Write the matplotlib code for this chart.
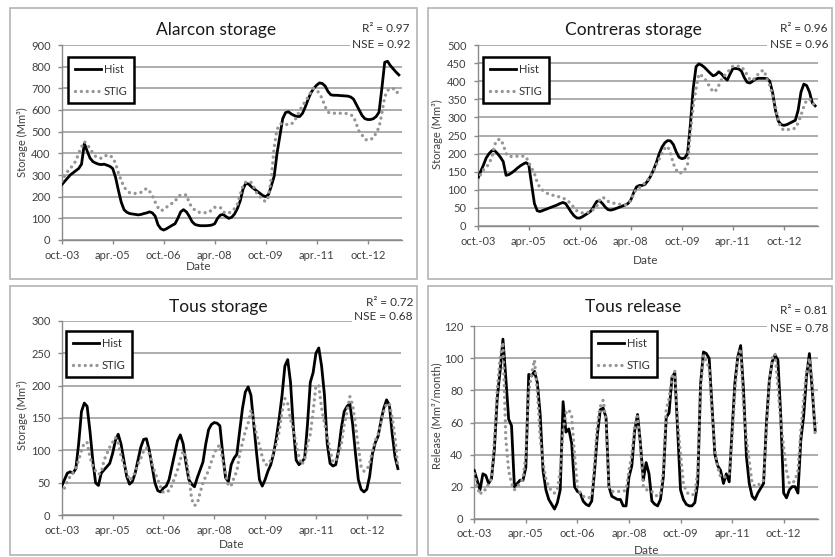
import matplotlib.pyplot as plt
import matplotlib.patches as patches
import numpy as np

plt.rcParams['font.family'] = ['Lato', 'DejaVu Sans']

W, H = 835, 557

# months counted from oct. 2003
tick_pos = [0, 18, 36, 54, 72, 90, 108]
tick_labels = ['oct.-03', 'apr.-05', 'oct.-06', 'apr.-08', 'oct.-09', 'apr.-11', 'oct.-12']

alarcon_hist = [255, 270, 285, 300, 310, 320, 330, 350, 445, 410,
                378, 362, 355, 350, 348, 350, 345, 340, 330, 290,
                230, 175, 140, 128, 122, 120, 118, 116, 118, 122,
                125, 130, 125, 110, 70, 52, 46, 52, 60, 68,
                75, 100, 130, 140, 130, 110, 85, 72, 68, 66,
                66, 66, 67, 69, 75, 100, 115, 118, 108, 100,
                105, 120, 145, 180, 235, 262, 258, 245, 235, 225,
                215, 205, 200, 210, 250, 295, 400, 480, 560, 588,
                592, 582, 575, 570, 570, 585, 615, 650, 680, 700,
                715, 725, 722, 710, 685, 670, 668, 668, 667, 666,
                665, 664, 660, 650, 625, 600, 575, 560, 556, 556,
                560, 570, 590, 700, 820, 825, 805, 790, 775, 762]
alarcon_stig = [270, 295, 315, 330, 346, 365, 400, 430, 454, 440,
                423, 400, 385, 380, 377, 385, 392, 390, 380, 354,
                310, 275, 245, 228, 218, 215, 215, 217, 220, 230,
                238, 225, 205, 175, 150, 135, 140, 152, 160, 170,
                178, 200, 208, 208, 208, 172, 150, 138, 130, 126,
                126, 126, 128, 140, 151, 151, 150, 130, 123, 125,
                131, 145, 165, 210, 250, 268, 270, 265, 240, 212,
                200, 185, 177, 200, 290, 430, 510, 535, 538, 535,
                531, 535, 546, 570, 598, 620, 640, 660, 685, 700,
                690, 677, 650, 615, 590, 585, 585, 585, 585, 585,
                585, 582, 578, 570, 535, 500, 485, 465, 460, 465,
                470, 495, 520, 585, 660, 690, 700, 698, 695, 662]

contreras_hist = [130, 150, 168, 188, 200, 208, 208, 200, 190, 178,
                  140, 142, 147, 153, 160, 166, 171, 175, 170, 115,
                  62, 42, 40, 43, 46, 49, 52, 55, 58, 62,
                  65, 62, 50, 38, 28, 22, 22, 26, 31, 36,
                  42, 55, 68, 70, 62, 52, 45, 44, 46, 49,
                  52, 55, 58, 62, 72, 92, 108, 112, 112, 115,
                  125, 138, 155, 175, 200, 218, 230, 236, 235, 225,
                  205, 190, 186, 188, 200, 280, 380, 440, 448, 444,
                  438, 430, 422, 415, 418, 426, 420, 410, 403, 420,
                  435, 435, 434, 428, 410, 397, 395, 400, 406, 408,
                  408, 408, 407, 400, 368, 320, 290, 280, 278, 280,
                  284, 288, 292, 320, 370, 392, 388, 370, 340, 332]
contreras_stig = [127, 142, 155, 162, 172, 190, 225, 238, 240, 225,
                  200, 192, 192, 192, 193, 193, 193, 192, 175, 160,
                  145, 120, 105, 98, 93, 88, 86, 84, 82, 80,
                  77, 74, 68, 60, 50, 42, 38, 36, 36, 38,
                  40, 48, 55, 72, 80, 75, 68, 66, 63, 61,
                  60, 59, 58, 62, 70, 90, 102, 106, 110, 120,
                  128, 140, 152, 170, 185, 200, 215, 220, 200, 172,
                  155, 145, 148, 155, 170, 260, 330, 380, 420, 415,
                  408, 395, 383, 370, 375, 388, 405, 415, 425, 432,
                  442, 442, 441, 440, 430, 418, 405, 402, 412, 420,
                  428, 430, 405, 388, 362, 330, 290, 270, 265, 266,
                  267, 268, 270, 285, 306, 330, 348, 350, 345, 325]

tous_hist = [45, 55, 65, 67, 65, 72, 110, 160, 173, 168,
             130, 85, 50, 46, 65, 70, 75, 80, 95, 115,
             125, 110, 85, 60, 48, 52, 65, 85, 105, 117,
             118, 100, 75, 50, 38, 36, 42, 45, 55, 75,
             95, 115, 124, 110, 80, 55, 48, 44, 58, 70,
             82, 110, 132, 140, 143, 142, 138, 95, 58, 52,
             78, 88, 94, 130, 165, 190, 198, 185, 140, 95,
             55, 45, 55, 68, 78, 95, 120, 150, 185, 230,
             240, 205, 135, 85, 78, 82, 88, 140, 205, 220,
             250, 258, 230, 186, 110, 80, 76, 78, 100, 135,
             160, 168, 172, 140, 95, 55, 40, 36, 40, 60,
             95, 112, 122, 145, 165, 178, 170, 125, 90, 72]
tous_stig = [34, 42, 52, 60, 66, 72, 85, 100, 112, 112,
             90, 76, 68, 63, 66, 85, 95, 105, 112, 120,
             112, 92, 78, 66, 54, 58, 66, 78, 88, 99,
             104, 95, 80, 66, 55, 44, 35, 36, 38, 46,
             58, 70, 86, 99, 90, 60, 25, 15, 18, 35,
             50, 60, 69, 83, 95, 105, 108, 85, 66, 45,
             46, 58, 68, 94, 112, 130, 142, 162, 145, 124,
             108, 90, 78, 78, 85, 96, 110, 130, 160, 180,
             172, 148, 130, 110, 90, 78, 86, 110, 125, 160,
             200, 200, 165, 142, 122, 100, 82, 84, 95, 110,
             140, 160, 183, 170, 140, 105, 75, 68, 70, 80,
             100, 115, 125, 142, 160, 172, 172, 150, 120, 73]

release_hist = [30, 24, 18, 28, 27, 22, 25, 43, 75, 92,
                112, 88, 62, 58, 20, 22, 24, 24, 32, 90,
                89, 92, 85, 65, 30, 18, 12, 9, 6, 10,
                18, 73, 54, 56, 47, 20, 17, 16, 11, 9,
                8, 11, 30, 53, 68, 69, 63, 20, 14, 13,
                12, 12, 8, 8, 26, 33, 55, 65, 47, 24,
                35, 28, 11, 9, 8, 12, 26, 63, 66, 88,
                91, 55, 18, 12, 9, 8, 8, 10, 22, 84,
                104, 103, 100, 70, 40, 33, 30, 22, 28, 23,
                55, 85, 101, 108, 80, 39, 22, 14, 12, 16,
                19, 22, 60, 86, 98, 102, 99, 64, 16, 13,
                18, 20, 20, 16, 49, 64, 89, 103, 80, 55]
release_stig = [28, 20, 15, 18, 18, 22, 25, 48, 80, 100,
                110, 50, 30, 22, 18, 20, 22, 25, 40, 80,
                90, 99, 80, 50, 35, 25, 20, 17, 16, 18,
                30, 55, 66, 68, 64, 40, 20, 16, 14, 13,
                13, 14, 35, 60, 70, 74, 60, 20, 17, 17,
                17, 17, 17, 18, 30, 40, 58, 64, 45, 20,
                18, 18, 17, 15, 14, 16, 30, 68, 75, 88,
                92, 60, 40, 22, 17, 15, 15, 15, 30, 80,
                102, 98, 94, 66, 43, 32, 26, 26, 26, 28,
                50, 80, 100, 106, 70, 50, 36, 22, 20, 21,
                22, 24, 55, 84, 100, 103, 82, 60, 45, 30,
                22, 22, 24, 30, 55, 75, 92, 100, 86, 52]

panels = [
    dict(title='Alarcon storage', hist=alarcon_hist, stig=alarcon_stig,
         box=(61.7, 45, 401.7, 240), ymax=900, ystep=100,
         ylabel='Storage (Mm³)', r2='R² = 0.97', nse='NSE = 0.92',
         title_xy=(216, 30), r2_xy=(410, 28), nse_xy=(410, 45),
         ylab_xy=(22, 142), date_xy=(199, 266), leg_xy=(68, 57),
         frame=(10, 8, 417, 279)),
    dict(title='Contreras storage', hist=contreras_hist, stig=contreras_stig,
         box=(477.7, 45, 818, 226), ymax=500, ystep=50,
         ylabel='Storage (Mm³)', r2='R² = 0.96', nse='NSE = 0.96',
         title_xy=(633, 30), r2_xy=(828, 28), nse_xy=(828, 45),
         ylab_xy=(437, 134), date_xy=(646, 260), leg_xy=(483, 57),
         frame=(428, 8, 832, 279)),
    dict(title='Tous storage', hist=tous_hist, stig=tous_stig,
         box=(61.7, 320.7, 400.7, 515.3), ymax=300, ystep=50,
         ylabel='Storage (Mm³)', r2='R² = 0.72', nse='NSE = 0.68',
         title_xy=(218, 307), r2_xy=(413, 303), nse_xy=(413, 316),
         ylab_xy=(22, 415), date_xy=(232, 545), leg_xy=(66, 331),
         frame=(10, 286, 417, 555)),
    dict(title='Tous release', hist=release_hist, stig=release_stig,
         box=(474.3, 326.3, 818, 518.7), ymax=120, ystep=20,
         ylabel='Release (Mm³/month)', r2='R² = 0.81', nse='NSE = 0.78',
         title_xy=(633, 307), r2_xy=(828, 311), nse_xy=(828, 328),
         ylab_xy=(437, 416), date_xy=(647, 551), leg_xy=(591, 331),
         frame=(428, 286, 832, 555)),
]

fig = plt.figure(figsize=(W / 100, H / 100), dpi=100)


def fx(x):
    return x / W


def fy(y):
    return 1 - y / H


for p in panels:
    x0, y0, x1, y1 = p['frame']
    fig.patches.append(patches.Rectangle((fx(x0), fy(y1)), fx(x1) - fx(x0), fy(y0) - fy(y1),
                                         transform=fig.transFigure, fill=False,
                                         edgecolor='#b4b4b4', lw=1.2))

    l, t, r, b = p['box']
    ax = fig.add_axes([fx(l), fy(b), fx(r) - fx(l), fy(t) - fy(b)])
    months = np.arange(len(p['hist']))
    ax.plot(months, p['hist'], color='black', lw=2, label='Hist', zorder=3)
    ax.plot(np.arange(len(p['stig'])), p['stig'], color='#969696', lw=2.4,
            linestyle=(0, (0.01, 1.75)), dash_capstyle='round', label='STIG', zorder=4)

    ax.set_xlim(0, 120)
    ax.set_ylim(0, p['ymax'])
    ax.set_yticks(np.arange(0, p['ymax'] + 1, p['ystep']))
    ax.set_xticks(tick_pos)
    ax.set_xticklabels(tick_labels)
    ax.grid(axis='y', color='#a6a6a6', lw=1.3)
    ax.set_axisbelow(True)
    for s in ['top', 'right']:
        ax.spines[s].set_visible(False)
    for s in ['left', 'bottom']:
        ax.spines[s].set_color('#8a8a8a')
        ax.spines[s].set_linewidth(1)
    ax.tick_params(axis='both', direction='out', length=3, width=1, color='#8a8a8a',
                   labelsize=8, labelcolor='#404040')
    ax.tick_params(axis='x', pad=4)
    ax.tick_params(axis='y', pad=5)

    leg = ax.legend(loc='upper left', bbox_to_anchor=(fx(p['leg_xy'][0]), fy(p['leg_xy'][1])),
                    bbox_transform=fig.transFigure, borderaxespad=0, fontsize=8,
                    fancybox=False, framealpha=1, edgecolor='black', handlelength=2.4,
                    handletextpad=0.2, labelspacing=1.0, borderpad=0.6)
    leg.get_frame().set_linewidth(1.8)
    for txt in leg.get_texts():
        txt.set_color('#303030')

    fig.text(fx(p['title_xy'][0]), fy(p['title_xy'][1]), p['title'], fontsize=12.5,
             ha='center', va='center', color='#1a1a1a')
    fig.text(fx(p['r2_xy'][0]), fy(p['r2_xy'][1]), p['r2'], fontsize=8.5, ha='right',
             va='center', color='#303030',
             bbox=dict(facecolor='white', edgecolor='none', pad=1.5))
    fig.text(fx(p['nse_xy'][0]), fy(p['nse_xy'][1]), p['nse'], fontsize=8.5, ha='right',
             va='center', color='#303030',
             bbox=dict(facecolor='white', edgecolor='none', pad=1.5))
    fig.text(fx(p['ylab_xy'][0]), fy(p['ylab_xy'][1]), p['ylabel'], fontsize=8,
             rotation=90, ha='center', va='center', color='#404040')
    fig.text(fx(p['date_xy'][0]), fy(p['date_xy'][1]), 'Date', fontsize=8.5,
             ha='center', va='center', color='#404040')

fig.savefig('out.png', dpi=100)
